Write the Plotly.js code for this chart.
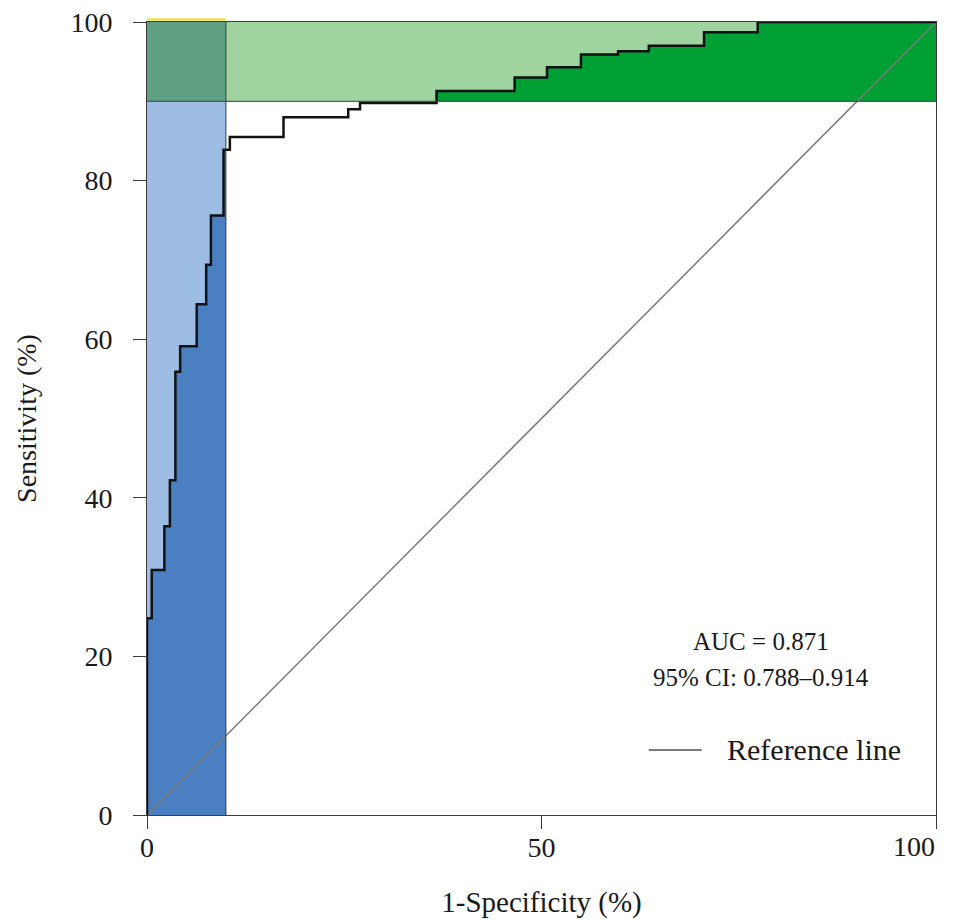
<!DOCTYPE html>
<html>
<head>
<meta charset="utf-8">
<script src="https://cdn.plot.ly/plotly-3.0.1.min.js"></script>
<style>html,body{margin:0;padding:0;background:#fff;}#chart{width:953px;height:920px;}</style>
</head>
<body>
<div id="chart"></div>
<script>
// ROC curve vertices (1-Specificity %, Sensitivity %), drawn as a horizontal-then-vertical step line
const fpr = [0, 0, 0.6, 2.2, 2.9, 3.6, 4.2, 6.3, 7.5, 8.1, 9.7, 10.5, 17.3, 25.5, 27.0, 36.7, 46.6, 50.7, 55.0, 59.7, 63.6, 70.6, 77.4, 100];
const tpr = [0, 24.8, 30.9, 36.4, 42.2, 55.9, 59.1, 64.4, 69.4, 75.6, 83.9, 85.5, 88.0, 89.0, 89.8, 91.3, 93.0, 94.3, 95.9, 96.3, 97.0, 98.7, 100, 100];
// reference (chance) line
const refX = [0, 100];
const refY = [0, 100];
// partial-AUC thresholds
const fprCut = 10;   // specificity >= 90 %
const tprCut = 90;   // sensitivity >= 90 %
// tick labels
const xTicks = [0, 50, 100];
const yTicks = [0, 20, 40, 60, 80, 100];
const aucText = "AUC = 0.871";
const ciText = "95% CI: 0.788\u20130.914";
const legendText = "Reference line";

// expand to step vertices (hv)
const sx = [fpr[0]], sy = [tpr[0]];
for (let i = 1; i < fpr.length; i++) {
  sx.push(fpr[i]); sy.push(tpr[i - 1]);
  sx.push(fpr[i]); sy.push(tpr[i]);
}
function valAt(x) {
  let v = tpr[0];
  for (let i = 0; i < fpr.length; i++) { if (fpr[i] <= x) v = tpr[i]; }
  return v;
}
// dark blue: under curve, x in [0, fprCut], y <= tprCut
const bx = [0], by = [0];
for (let i = 0; i < sx.length; i++) {
  if (sx[i] < fprCut) { bx.push(sx[i]); by.push(Math.min(sy[i], tprCut)); }
}
bx.push(fprCut); by.push(Math.min(valAt(fprCut), tprCut));
bx.push(fprCut); by.push(0);
// dark green: between tprCut and curve, x in [fprCut, 100]
const gx = [fprCut], gy = [Math.max(valAt(fprCut), tprCut)];
for (let i = 0; i < sx.length; i++) {
  if (sx[i] > fprCut) { gx.push(sx[i]); gy.push(Math.max(sy[i], tprCut)); }
}
gx.push(100); gy.push(tprCut);

const serif = "Liberation Serif";
const frame = "#3c3c3c";
const txt = "#1a1a1a";

const traces = [
  {x: bx, y: by, type: "scatter", mode: "lines", fill: "toself", fillcolor: "#4a80c1",
   line: {width: 0}, hoverinfo: "skip", showlegend: false},
  {x: gx, y: gy, type: "scatter", mode: "lines", fill: "toself", fillcolor: "#00a034",
   line: {width: 0}, hoverinfo: "skip", showlegend: false},
  {x: refX, y: refY, type: "scatter", mode: "lines", line: {color: "#7a7a7a", width: 1.5},
   showlegend: false, hoverinfo: "skip"},
  {x: fpr, y: tpr, type: "scatter", mode: "lines", line: {color: "#111111", width: 2.5, shape: "hv"},
   showlegend: false}
];

const shapes = [
  {type: "rect", layer: "below", xref: "x", yref: "y", x0: 0, x1: fprCut, y0: 0, y1: tprCut, fillcolor: "#9dbde4", line: {width: 0}},
  {type: "rect", layer: "below", xref: "x", yref: "y", x0: fprCut, x1: 100, y0: tprCut, y1: 100, fillcolor: "#9fd39f", line: {width: 0}},
  {type: "rect", layer: "below", xref: "x", yref: "y", x0: 0, x1: fprCut, y0: tprCut, y1: 100, fillcolor: "#5f9f82", line: {width: 0}},
  {type: "line", layer: "above", xref: "x", yref: "y", x0: fprCut, x1: fprCut, y0: 0, y1: 100, line: {color: frame, width: 1}},
  {type: "line", layer: "above", xref: "x", yref: "y", x0: 0, x1: 100, y0: tprCut, y1: tprCut, line: {color: frame, width: 1}},
  {type: "line", layer: "above", xref: "paper", yref: "paper", x0: 0, x1: fprCut / 100, y0: 1.003, y1: 1.003, line: {color: "#f2e200", width: 2}},
  // legend key
  {type: "line", layer: "above", xref: "x", yref: "y", x0: 63.6, x1: 70.3, y0: 8.2, y1: 8.2, line: {color: "#7a7a7a", width: 2}}
];

const annotations = [
  {xref: "x", yref: "y", x: 77.8, y: 21.9, text: aucText, showarrow: false, xanchor: "center", yanchor: "middle",
   font: {family: serif, size: 25, color: txt}},
  {xref: "x", yref: "y", x: 77.8, y: 17.3, text: ciText, showarrow: false, xanchor: "center", yanchor: "middle",
   font: {family: serif, size: 25, color: txt}},
  {xref: "x", yref: "y", x: 73.2, y: 8.2, text: legendText, showarrow: false, xanchor: "left", yanchor: "middle",
   font: {family: serif, size: 30, color: txt}},
  // last x tick label, kept inside the page as in the reference
  {xref: "paper", yref: "paper", x: 1.001, y: 0, yshift: -14, text: String(xTicks[2]), showarrow: false,
   xanchor: "right", yanchor: "top", font: {family: serif, size: 28, color: txt}}
];

const layout = {
  width: 953, height: 920,
  margin: {l: 147, r: 17, t: 22, b: 105},
  paper_bgcolor: "#ffffff", plot_bgcolor: "#ffffff",
  showlegend: false,
  font: {family: serif, color: txt},
  xaxis: {
    range: [0, 100], tickvals: xTicks, ticktext: xTicks.map((v, i) => i === 2 ? "" : String(v)),
    showgrid: false, zeroline: false, showline: true, linecolor: frame, linewidth: 1, mirror: true,
    ticks: "outside", ticklen: 13, tickcolor: frame, tickwidth: 1,
    tickfont: {family: serif, size: 28, color: txt}, ticklabelstandoff: -6,
    title: {text: "1-Specificity (%)", font: {family: serif, size: 29, color: txt}, standoff: 30}
  },
  yaxis: {
    range: [0, 100], tickvals: yTicks, ticktext: yTicks.map(String),
    showgrid: false, zeroline: false, showline: true, linecolor: frame, linewidth: 1, mirror: true,
    ticks: "outside", ticklen: 13, tickcolor: frame, tickwidth: 1,
    tickfont: {family: serif, size: 28, color: txt}, ticklabelstandoff: 15,
    title: {text: "Sensitivity (%)", font: {family: serif, size: 28, color: txt}, standoff: 25}
  },
  shapes: shapes,
  annotations: annotations
};

Plotly.newPlot("chart", traces, layout, {displayModeBar: false, staticPlot: true});
</script>
</body>
</html>
